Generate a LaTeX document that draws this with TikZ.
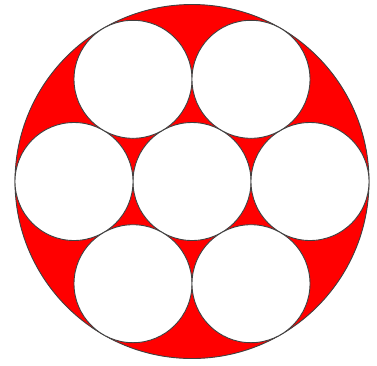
\documentclass[tikz,border=0pt]{standalone}
\begin{document}
\begin{tikzpicture}[x=1pt,y=-1pt,
  outer/.style={circle,draw=black!75,fill=red,line width=0.9pt,minimum size=354pt,inner sep=0pt},
  inner/.style={circle,draw=black!75,fill=white,line width=0.9pt,minimum size=118pt,inner sep=0pt}]
\useasboundingbox (0,0) rectangle (377,365);
\node[outer] (big) at (192,181.5) {};
\node[inner] (c0) at (192,181.5) {};
\node[inner] (c1) at (74,181.5) {};
\node[inner] (c2) at (310,181.5) {};
\node[inner] (c3) at (133,79.3) {};
\node[inner] (c4) at (251,79.3) {};
\node[inner] (c5) at (133,283.7) {};
\node[inner] (c6) at (251,283.7) {};
\end{tikzpicture}
\end{document}
